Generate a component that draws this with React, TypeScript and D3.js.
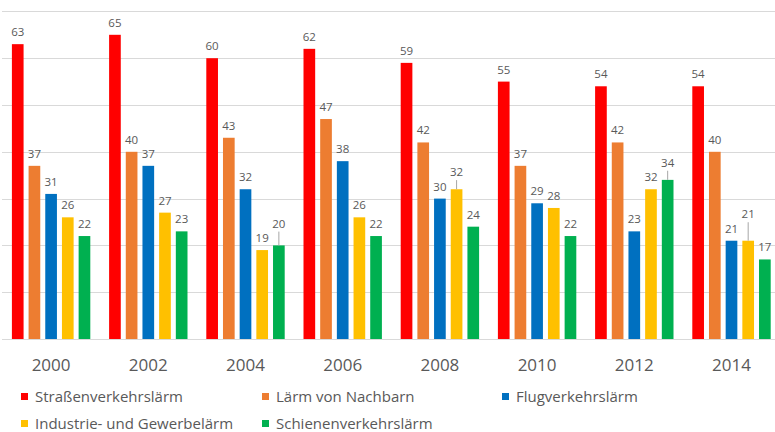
import React from 'react';
import { scaleBand, scaleLinear, range } from 'd3';

const years = ['2000', '2002', '2004', '2006', '2008', '2010', '2012', '2014'];
const seriesNames = ['Straßenverkehrslärm', 'Lärm von Nachbarn', 'Flugverkehrslärm', 'Industrie- und Gewerbelärm', 'Schienenverkehrslärm'];
const colors = ['#FF0000', '#ED7D31', '#0070C0', '#FFC000', '#00B050'];
const strasse = [63, 65, 60, 62, 59, 55, 54, 54];
const nachbarn = [37, 40, 43, 47, 42, 37, 42, 40];
const flug = [31, 37, 32, 38, 30, 29, 23, 21];
const industrie = [26, 27, 19, 26, 32, 28, 32, 21];
const schiene = [22, 23, 20, 22, 24, 22, 34, 17];
const values = [strasse, nachbarn, flug, industrie, schiene];
const gridTicks = range(0, 80, 10);

const W = 775;
const H = 432;
const font = '"Open Sans", sans-serif';
const textColor = '#595959';

const App = () => {
    const x0 = scaleBand().domain(years).range([2.5, 2.5 + 97.2 * 8]).padding(0);
    const x1 = scaleBand().domain(seriesNames).range([9.4, x0.bandwidth() - 9.4]).paddingInner(0.3).paddingOuter(0);
    const y = scaleLinear().domain([0, 70]).range([339, 11.4]);

    // label positions: nudge a label up (with a leader line) when it would collide with the previous bar's label
    const labels: any[] = [];
    years.forEach((yr, gi) => {
        let prevBase = 0;
        seriesNames.forEach((s, si) => {
            const v = values[si][gi];
            const top = y(v);
            let base = top - 8;
            let leader = false;
            if (si > 0) {
                const pv = values[si - 1][gi];
                if (v >= pv && v - pv <= 2) {
                    base = prevBase - 14.5;
                    leader = true;
                }
            }
            labels.push({ key: yr + s, x: x0(yr)! + x1(s)! + x1.bandwidth() / 2, base, top, v, leader });
            prevBase = base;
        });
    });

    const legendCols = [21, 262, 502];
    const legendRows = [396.5, 423.5];

    return (
        <svg width={W} height={H} style={{ position: 'absolute', left: 0, top: 0, background: '#fff' }}>
            {gridTicks.map(t => (
                <line key={t} x1={2} x2={W} y1={Math.round(y(t)) + 0.5} y2={Math.round(y(t)) + 0.5} stroke='#d9d9d9' strokeWidth={1} />
            ))}
            {years.map((yr, gi) => (
                <g key={yr} transform={`translate(${x0(yr)},0)`}>
                    {seriesNames.map((s, si) => (
                        <rect key={s} x={x1(s)} y={y(values[si][gi])} width={x1.bandwidth()} height={y(0) - y(values[si][gi])} fill={colors[si]} />
                    ))}
                    <text x={x0.bandwidth() / 2} y={371} textAnchor='middle' fontFamily={font} fontSize={17} fill={textColor}>{yr}</text>
                </g>
            ))}
            {labels.map(l => (
                <g key={l.key}>
                    {l.leader && <line x1={l.x} x2={l.x} y1={l.base + 4} y2={l.top} stroke='#a6a6a6' strokeWidth={1} />}
                    <text x={l.x} y={l.base} textAnchor='middle' fontFamily={font} fontSize={11.5} fill={textColor}>{l.v}</text>
                </g>
            ))}
            {seriesNames.map((s, si) => {
                const lx = legendCols[si % 3];
                const ly = legendRows[Math.floor(si / 3)];
                return (
                    <g key={s}>
                        <rect x={lx} y={ly - 3.5} width={7} height={7} fill={colors[si]} />
                        <text x={lx + 14} y={ly + 5.5} fontFamily={font} fontSize={15} fill={textColor}>{s}</text>
                    </g>
                );
            })}
        </svg>
    );
};

export default App;
